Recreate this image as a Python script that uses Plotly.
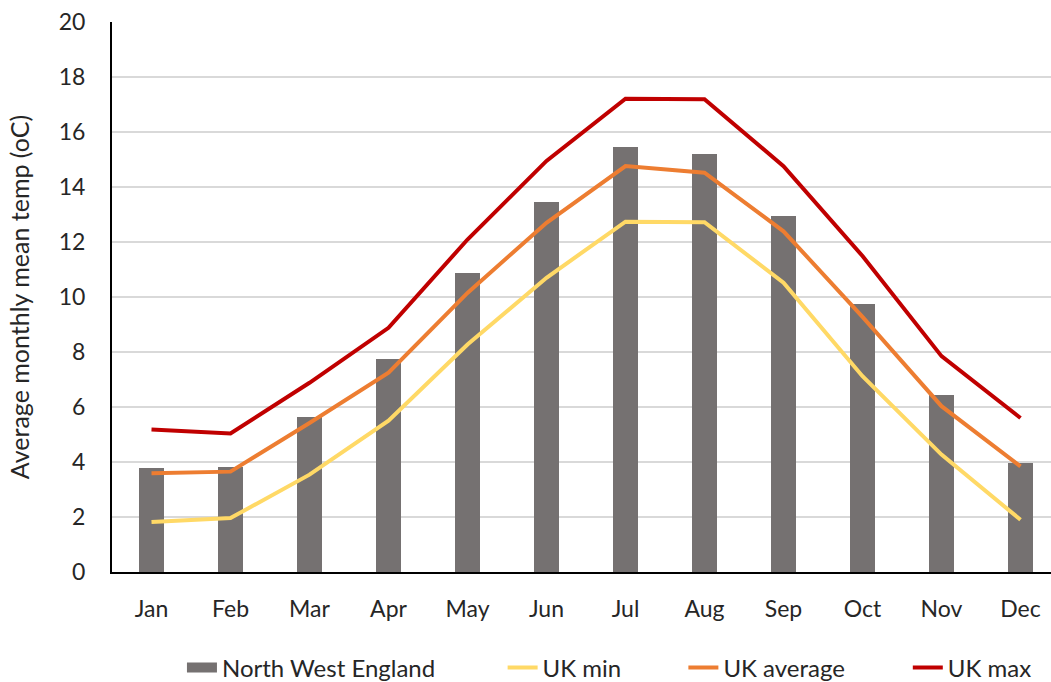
import plotly.graph_objects as go

months = ["Jan", "Feb", "Mar", "Apr", "May", "Jun", "Jul", "Aug", "Sep", "Oct", "Nov", "Dec"]
north_west_england = [3.78, 3.83, 5.64, 7.75, 10.88, 13.45, 15.45, 15.21, 12.93, 9.75, 6.43, 3.97]
uk_min = [1.82, 1.96, 3.54, 5.5, 8.27, 10.7, 12.74, 12.72, 10.52, 7.12, 4.27, 1.9]
uk_average = [3.59, 3.65, 5.42, 7.25, 10.15, 12.7, 14.76, 14.52, 12.39, 9.28, 6.03, 3.84]
uk_max = [5.18, 5.04, 6.88, 8.88, 12.09, 14.95, 17.21, 17.19, 14.76, 11.49, 7.85, 5.6]
y_ticks = [0, 2, 4, 6, 8, 10, 12, 14, 16, 18, 20]

FONT = "Lato, 'Open Sans', sans-serif"
TEXT = "#262626"
BAR_GREY = "#757171"

fig = go.Figure()
fig.add_trace(go.Bar(
    x=months, y=north_west_england, name="North West England",
    marker=dict(color=BAR_GREY, line=dict(width=0)), width=0.32,
    showlegend=False,
))
# legend entry for the bars, drawn as a wide grey swatch
fig.add_trace(go.Scatter(
    x=[None], y=[None], name="North West England", mode="lines",
    line=dict(color=BAR_GREY, width=16), hoverinfo="skip", legend="legend",
))
series = [
    ("UK min", uk_min, "#FFD966", "legend2"),
    ("UK average", uk_average, "#ED7D31", "legend3"),
    ("UK max", uk_max, "#C00000", "legend4"),
]
for name, values, colour, leg in series:
    fig.add_trace(go.Scatter(
        x=months, y=values, name=name, mode="lines",
        line=dict(color=colour, width=4), legend=leg,
    ))

# one single-entry legend per series, laid out in a row under the axis
legend_row = dict(orientation="h", y=-0.1745, yanchor="middle", xanchor="left",
                  font=dict(family=FONT, size=24, color=TEXT), bgcolor="rgba(0,0,0,0)")
fig.update_layout(
    width=1051, height=682,
    margin=dict(l=112, r=0, t=22, b=110, autoexpand=False),
    paper_bgcolor="white", plot_bgcolor="white",
    font=dict(family=FONT, size=23, color=TEXT),
    showlegend=True,
    legend=dict(x=0.0745, **legend_row),
    legend2=dict(x=0.4160, **legend_row),
    legend3=dict(x=0.6085, **legend_row),
    legend4=dict(x=0.8475, **legend_row),
    bargap=0,
)
fig.update_xaxes(
    type="category", range=[-0.5, 11.386],
    showline=True, linecolor="black", linewidth=2,
    showgrid=False, ticks="", ticklabelstandoff=15,
    tickfont=dict(family=FONT, size=23, color=TEXT),
)
fig.update_yaxes(
    range=[0, 20], tickvals=y_ticks,
    showline=True, linecolor="black", linewidth=2,
    showgrid=True, gridcolor="#d9d9d9", gridwidth=1.5,
    zeroline=False, ticks="", ticklabelstandoff=20,
    tickfont=dict(family=FONT, size=23, color=TEXT),
    title=dict(text="Average monthly mean temp (oC)", standoff=22,
               font=dict(family=FONT, size=25, color=TEXT)),
)

fig.write_html("out.html")
